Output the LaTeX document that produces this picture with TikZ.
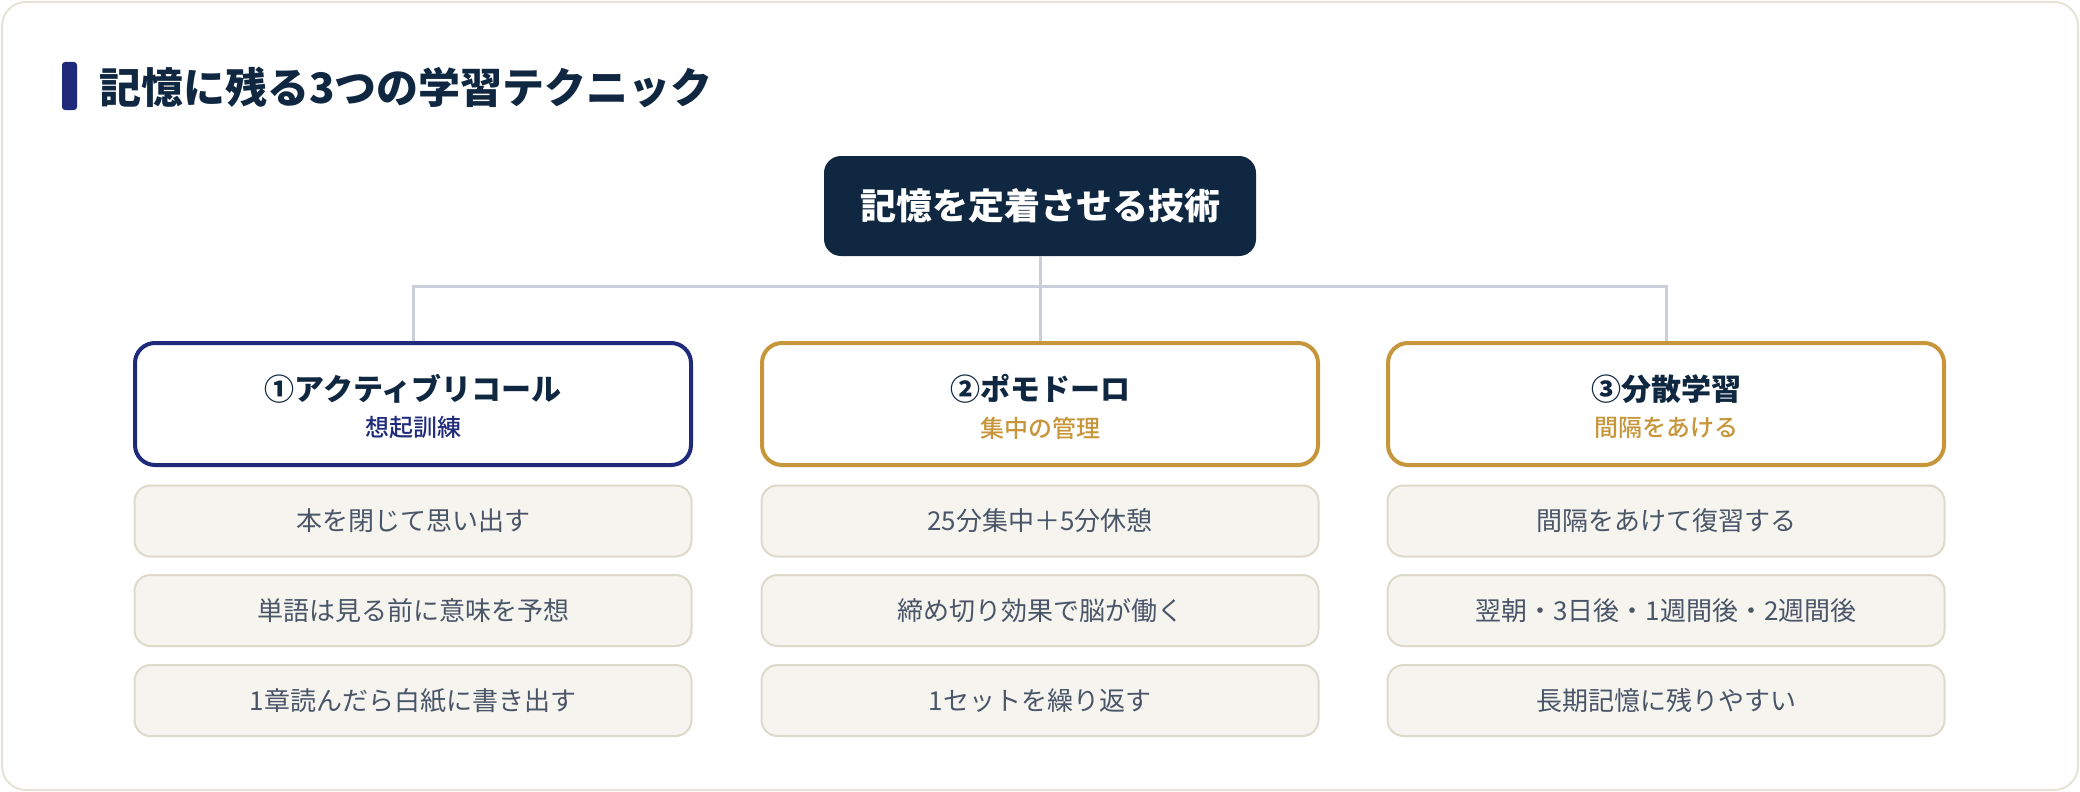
\documentclass[tikz,border=0pt]{standalone}
\usepackage{fontspec}
\setmainfont{Noto Sans CJK JP}
\newfontfamily\jpmedium{Noto Sans CJK JP Medium}
\definecolor{ink}{HTML}{0F2740}
\definecolor{navy}{HTML}{1F2A7A}
\definecolor{gold}{HTML}{C8963A}
\definecolor{itemfill}{HTML}{F6F4EF}
\definecolor{itemline}{HTML}{DEDACB}
\definecolor{itemtext}{HTML}{4A5568}
\definecolor{conn}{HTML}{C9CED8}
\definecolor{frameline}{HTML}{E6E3D6}
\newcommand{\fsz}[1]{\fontsize{#1}{#1}\selectfont}
\tikzset{
  rootbox/.style={fill=ink, rounded corners=17pt, minimum width=432pt, minimum height=100pt, inner sep=0pt, text=white, font=\fsz{36}\bfseries},
  colbox/.style={draw=#1, line width=4pt, fill=white, rounded corners=20pt, minimum width=556pt, minimum height=122pt, inner sep=0pt},
  headtext/.style={text=ink, font=\fsz{30}\bfseries, inner sep=0pt},
  subtext/.style={text=#1, font=\fsz{24}\jpmedium, inner sep=0pt},
  itembox/.style={draw=itemline, line width=2pt, fill=itemfill, rounded corners=16pt, minimum width=557pt, minimum height=71pt, inner sep=0pt, text=itemtext, font=\fsz{26}},
  connline/.style={draw=conn, line width=3pt},
}
\begin{document}
\begin{tikzpicture}[x=1pt, y=-1pt]
\useasboundingbox (0,0) rectangle (2080,792);
\fill[white] (0,0) rectangle (2080,792);
\draw[frameline, line width=2pt, rounded corners=24pt] (2,2) rectangle (2078,790);
% title
\fill[navy, rounded corners=3pt] (62,62) rectangle (77,110);
\node[anchor=west, inner sep=0pt, text=ink, font=\fsz{42}\bfseries] (title) at (99,87) {記憶に残る3つの学習テクニック};
% root
\node[rootbox] (root) at (1040,206) {記憶を定着させる技術};
% columns
\node[colbox=navy] (c1) at (413,404) {};
\node[colbox=gold] (c2) at (1040,404) {};
\node[colbox=gold] (c3) at (1666,404) {};
\node[headtext] (h1) at (413,389) {①アクティブリコール};
\node[subtext=navy] (s1) at (413,428) {想起訓練};
\node[headtext] (h2) at (1040,389) {②ポモドーロ};
\node[subtext=gold] (s2) at (1040,428) {集中の管理};
\node[headtext] (h3) at (1666,389) {③分散学習};
\node[subtext=gold] (s3) at (1666,428) {間隔をあける};
% connectors
\coordinate (bus) at (1040,286);
\draw[connline] (root.south) -- (bus);
\draw[connline] (c1.north) -- (c1.north |- bus) -- (c3.north |- bus) -- (c3.north);
\draw[connline] (bus) -- (c2.north);
% items
\node[itembox] (a1) at (413,521) {本を閉じて思い出す};
\node[itembox] (a2) at (413,610.5) {単語は見る前に意味を予想};
\node[itembox] (a3) at (413,700.5) {1章読んだら白紙に書き出す};
\node[itembox] (b1) at (1040,521) {25分集中＋5分休憩};
\node[itembox] (b2) at (1040,610.5) {締め切り効果で脳が働く};
\node[itembox] (b3) at (1040,700.5) {1セットを繰り返す};
\node[itembox] (d1) at (1666,521) {間隔をあけて復習する};
\node[itembox] (d2) at (1666,610.5) {翌朝・3日後・1週間後・2週間後};
\node[itembox] (d3) at (1666,700.5) {長期記憶に残りやすい};
\end{tikzpicture}
\end{document}
